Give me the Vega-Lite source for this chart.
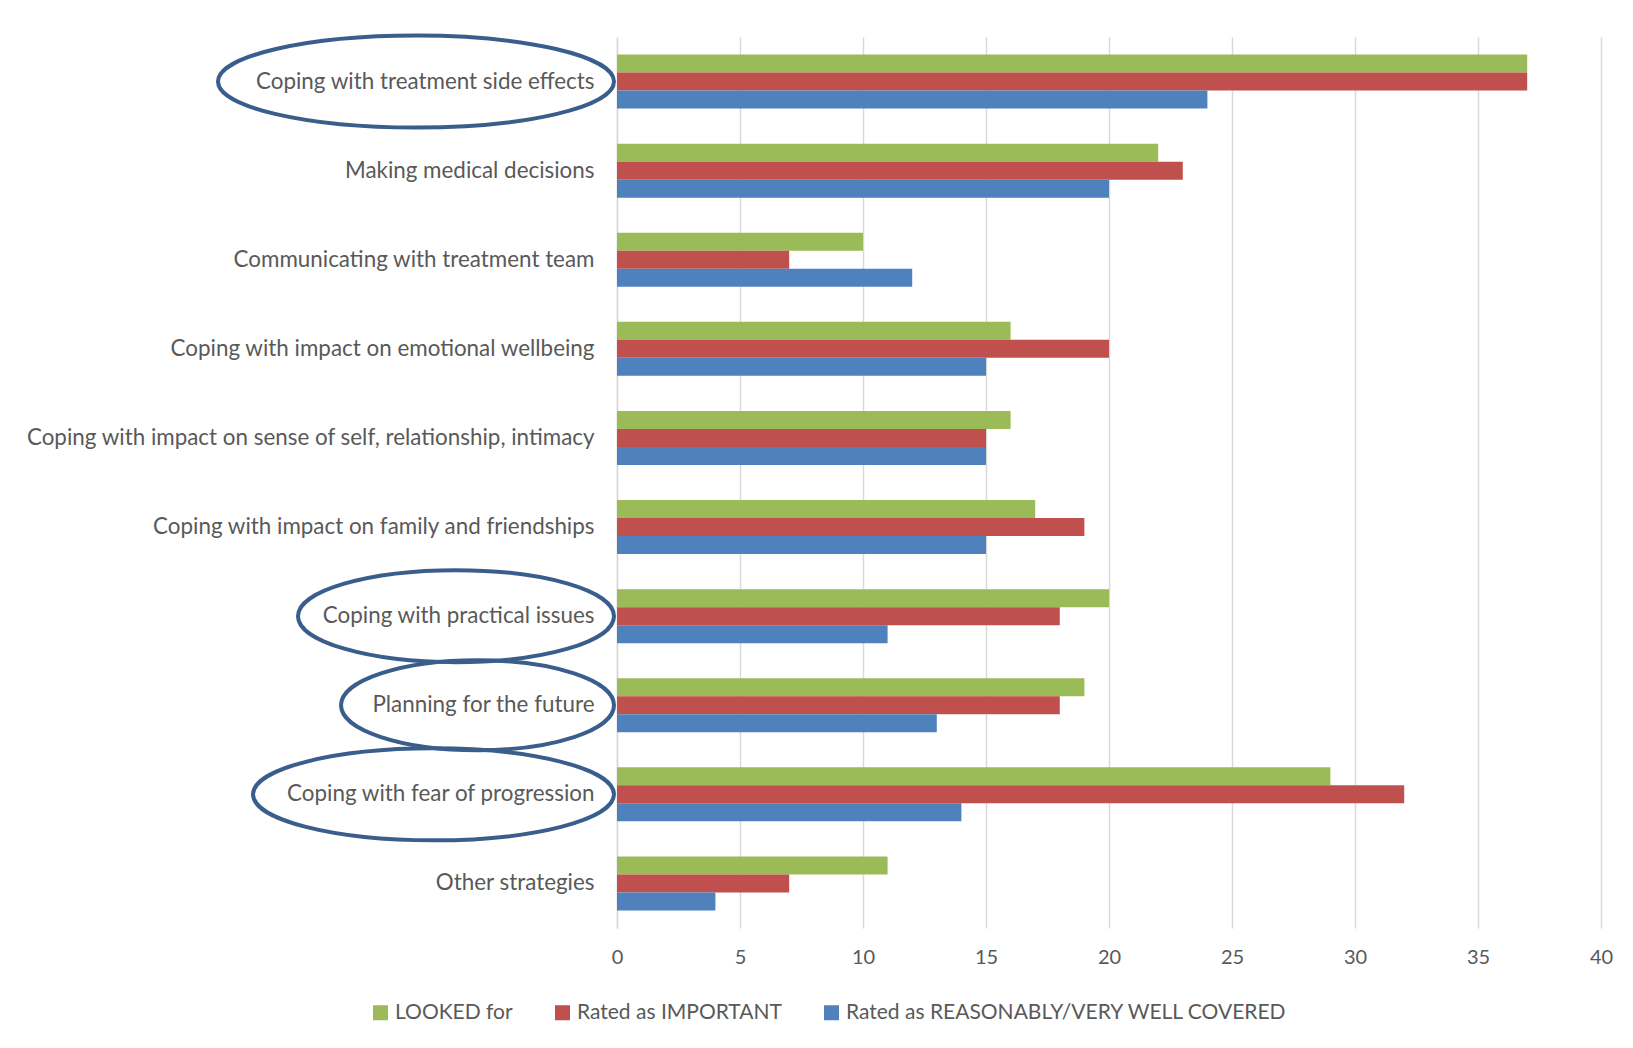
{
  "$schema": "https://vega.github.io/schema/vega-lite/v6.json",
  "width": 984,
  "height": 891,
  "autosize": {"type": "none"},
  "padding": {"left": 617, "top": 37, "right": 32, "bottom": 120},
  "background": "white",
  "config": {"view": {"stroke": null}, "font": "Lato"},
  "datasets": {
    "bars": [
      {"label": "Coping with treatment side effects", "series": "LOOKED for", "value": 37},
      {"label": "Coping with treatment side effects", "series": "Rated as IMPORTANT", "value": 37},
      {"label": "Coping with treatment side effects", "series": "Rated as REASONABLY/VERY WELL COVERED", "value": 24},
      {"label": "Making medical decisions", "series": "LOOKED for", "value": 22},
      {"label": "Making medical decisions", "series": "Rated as IMPORTANT", "value": 23},
      {"label": "Making medical decisions", "series": "Rated as REASONABLY/VERY WELL COVERED", "value": 20},
      {"label": "Communicating with treatment team", "series": "LOOKED for", "value": 10},
      {"label": "Communicating with treatment team", "series": "Rated as IMPORTANT", "value": 7},
      {"label": "Communicating with treatment team", "series": "Rated as REASONABLY/VERY WELL COVERED", "value": 12},
      {"label": "Coping with impact on emotional wellbeing", "series": "LOOKED for", "value": 16},
      {"label": "Coping with impact on emotional wellbeing", "series": "Rated as IMPORTANT", "value": 20},
      {"label": "Coping with impact on emotional wellbeing", "series": "Rated as REASONABLY/VERY WELL COVERED", "value": 15},
      {"label": "Coping with impact on sense of self, relationship, intimacy", "series": "LOOKED for", "value": 16},
      {"label": "Coping with impact on sense of self, relationship, intimacy", "series": "Rated as IMPORTANT", "value": 15},
      {"label": "Coping with impact on sense of self, relationship, intimacy", "series": "Rated as REASONABLY/VERY WELL COVERED", "value": 15},
      {"label": "Coping with impact on family and friendships", "series": "LOOKED for", "value": 17},
      {"label": "Coping with impact on family and friendships", "series": "Rated as IMPORTANT", "value": 19},
      {"label": "Coping with impact on family and friendships", "series": "Rated as REASONABLY/VERY WELL COVERED", "value": 15},
      {"label": "Coping with practical issues", "series": "LOOKED for", "value": 20},
      {"label": "Coping with practical issues", "series": "Rated as IMPORTANT", "value": 18},
      {"label": "Coping with practical issues", "series": "Rated as REASONABLY/VERY WELL COVERED", "value": 11},
      {"label": "Planning for the future", "series": "LOOKED for", "value": 19},
      {"label": "Planning for the future", "series": "Rated as IMPORTANT", "value": 18},
      {"label": "Planning for the future", "series": "Rated as REASONABLY/VERY WELL COVERED", "value": 13},
      {"label": "Coping with fear of progression", "series": "LOOKED for", "value": 29},
      {"label": "Coping with fear of progression", "series": "Rated as IMPORTANT", "value": 32},
      {"label": "Coping with fear of progression", "series": "Rated as REASONABLY/VERY WELL COVERED", "value": 14},
      {"label": "Other strategies", "series": "LOOKED for", "value": 11},
      {"label": "Other strategies", "series": "Rated as IMPORTANT", "value": 7},
      {"label": "Other strategies", "series": "Rated as REASONABLY/VERY WELL COVERED", "value": 4}
    ],
    "circled": [
      {"label": "Coping with treatment side effects"},
      {"label": "Coping with practical issues"},
      {"label": "Planning for the future"},
      {"label": "Coping with fear of progression"}
    ]
  },
  "layer": [
    {
      "data": {"name": "bars"},
      "mark": {"type": "bar"},
      "encoding": {
        "y": {
          "field": "label",
          "type": "nominal",
          "sort": ["Coping with treatment side effects", "Making medical decisions", "Communicating with treatment team", "Coping with impact on emotional wellbeing", "Coping with impact on sense of self, relationship, intimacy", "Coping with impact on family and friendships", "Coping with practical issues", "Planning for the future", "Coping with fear of progression", "Other strategies"],
          "scale": {"paddingInner": 0.394, "paddingOuter": 0.197},
          "axis": {"title": null, "labelFontSize": 22.4, "labelColor": "#595959", "labelPadding": 23, "ticks": false, "domain": true, "domainColor": "#D9D9D9", "domainWidth": 1.5, "labelLimit": 800, "grid": false}
        },
        "x": {
          "field": "value",
          "type": "quantitative",
          "scale": {"domain": [0, 40], "nice": false},
          "axis": {"values": [0, 5, 10, 15, 20, 25, 30, 35, 40], "grid": true, "gridColor": "#D9D9D9", "gridWidth": 1.5, "domain": false, "ticks": false, "labelFlush": false, "labelFontSize": 20, "labelColor": "#595959", "labelPadding": 19, "title": null}
        },
        "yOffset": {
          "field": "series",
          "type": "nominal",
          "sort": ["LOOKED for", "Rated as IMPORTANT", "Rated as REASONABLY/VERY WELL COVERED"]
        },
        "color": {
          "field": "series",
          "type": "nominal",
          "scale": {"domain": ["LOOKED for", "Rated as IMPORTANT", "Rated as REASONABLY/VERY WELL COVERED"], "range": ["#9BBB59", "#C0504D", "#4F81BD"]},
          "legend": {"title": null, "orient": "none", "legendX": -247, "legendY": 965, "direction": "horizontal", "symbolType": "square", "symbolSize": 225, "symbolStrokeWidth": 0, "labelFontSize": 21, "labelColor": "#595959", "labelLimit": 800, "columnPadding": 39, "labelOffset": 4}
        }
      }
    },
    {
      "data": {"name": "circled"},
      "mark": {"type": "point", "filled": false, "size": 4, "stroke": "#3A5E8C", "strokeWidth": 4, "opacity": 1},
      "encoding": {
        "y": {
          "field": "label",
          "type": "nominal",
          "sort": ["Coping with treatment side effects", "Making medical decisions", "Communicating with treatment team", "Coping with impact on emotional wellbeing", "Coping with impact on sense of self, relationship, intimacy", "Coping with impact on family and friendships", "Coping with practical issues", "Planning for the future", "Coping with fear of progression", "Other strategies"]
        },
        "x": {"datum": 0, "type": "quantitative"},
        "shape": {
          "field": "label",
          "type": "nominal",
          "scale": {
            "domain": ["Coping with treatment side effects", "Coping with practical issues", "Planning for the future", "Coping with fear of progression"],
            "range": [
              "M -399 0 A 198 46 0 1 0 -3 0 A 198 46 0 1 0 -399 0 Z",
              "M -319 0 A 158 46 0 1 0 -3 0 A 158 46 0 1 0 -319 0 Z",
              "M -276 0 A 136.5 45 0 1 0 -3 0 A 136.5 45 0 1 0 -276 0 Z",
              "M -364 0 A 180.5 46 0 1 0 -3 0 A 180.5 46 0 1 0 -364 0 Z"
            ]
          },
          "legend": null
        }
      }
    }
  ]
}
